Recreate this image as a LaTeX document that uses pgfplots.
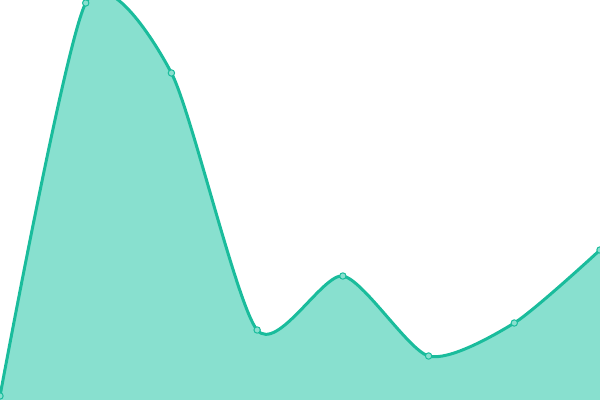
\documentclass[border=0pt]{standalone}
\usepackage{pgfplots}
\pgfplotsset{compat=1.18}
\definecolor{lineC}{HTML}{1ABC9C}
\definecolor{fillC}{HTML}{88E0CF}
\begin{document}
\begin{tikzpicture}
    %% area chart, no axes, fills whole picture
    \begin{axis}[
        scale only axis,
        width=600bp, height=400bp,
        hide axis,
        xmin=0, xmax=7,
        ymin=0, ymax=400,
    ]
    \addplot[draw=none, fill=fillC, smooth, tension=0.42]
        coordinates {
            (0,4)(1,397)(2,327)(3,70)(4,124)(5,44)(6,77)(7,150)
        } \closedcycle;
    \addplot[color=lineC, line width=3bp, smooth, tension=0.42,
             mark=*, mark size=3.2bp,
             mark options={fill=fillC, draw=lineC, line width=1bp}]
        coordinates {
            (0,4)(1,397)(2,327)(3,70)(4,124)(5,44)(6,77)(7,150)
        };
    \end{axis}
    \pgfresetboundingbox
    \path[use as bounding box] (0,0) rectangle (600bp,400bp);
\end{tikzpicture}
\end{document}
